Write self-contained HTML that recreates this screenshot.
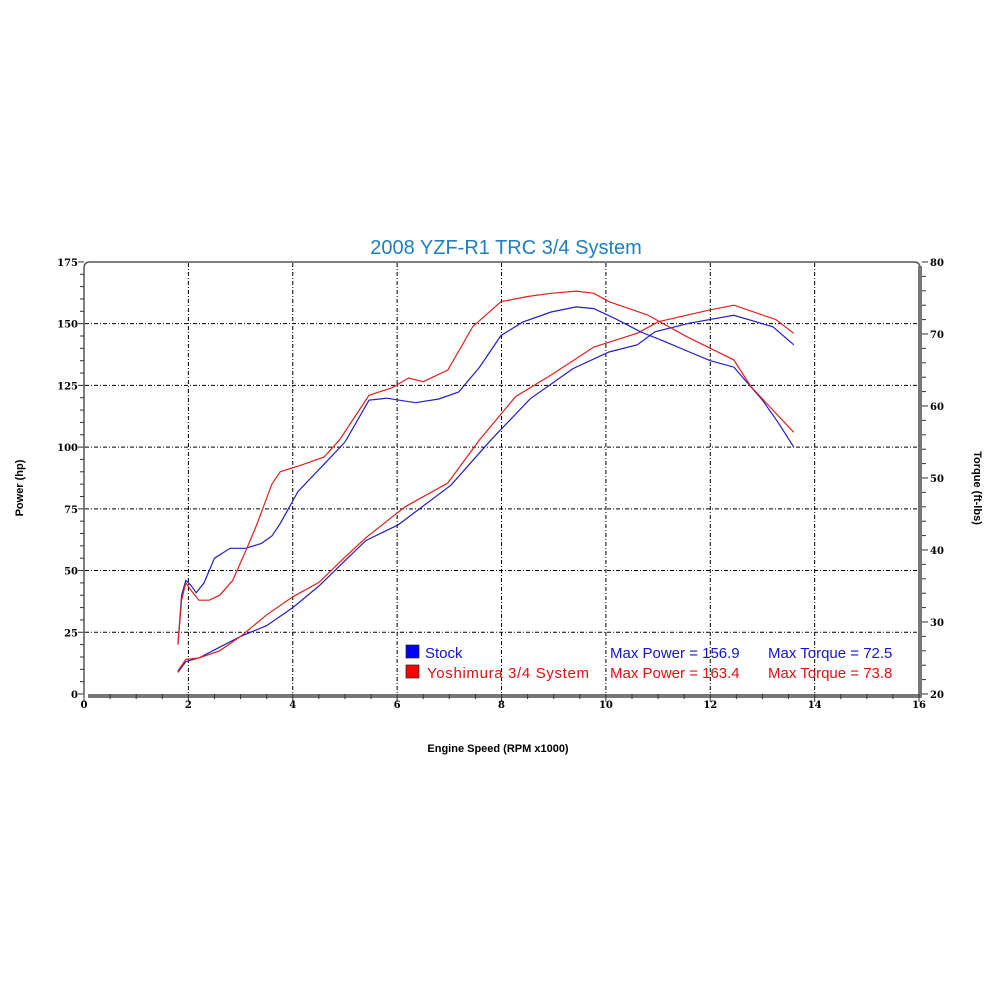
<!DOCTYPE html>
<html><head><meta charset="utf-8"><style>
html,body{margin:0;padding:0;background:#fff;width:1000px;height:1000px;overflow:hidden}
</style></head><body>
<svg id="s" width="1000" height="1000" xmlns="http://www.w3.org/2000/svg" font-family="Liberation Sans, sans-serif">
<rect width="1000" height="1000" fill="#fff"/>
<text x="506" y="254" text-anchor="middle" font-size="20" fill="#1f7fc0">2008 YZF-R1 TRC 3/4 System</text>
<g id="grid" stroke="#000" stroke-width="1" stroke-dasharray="4,2,1,2"></g>
<path d="M84,694 L84,268 Q84,262 90,262 L914,262 Q920,262 920,268 L920,694" fill="none" stroke="#555" stroke-width="1.5"/>
<rect x="918" y="266" width="4" height="432" fill="#777"/>
<rect x="88" y="694" width="834" height="4" fill="#777"/>
<g id="ticks" stroke="#333" stroke-width="1"></g>
<g id="lab" font-family="DejaVu Serif, serif" font-weight="bold" font-size="10" fill="#000"></g>
<text transform="translate(23,488) rotate(-90)" text-anchor="middle" font-size="11" font-weight="bold">Power (hp)</text>
<text transform="translate(974,488) rotate(90)" text-anchor="middle" font-size="11" font-weight="bold">Torque (ft-lbs)</text>
<text x="498" y="752" text-anchor="middle" font-size="11" font-weight="bold">Engine Speed (RPM x1000)</text>
<g id="curves" fill="none" stroke-width="1.2"></g>
<rect x="406" y="645" width="13" height="13" fill="#0000ff" stroke="#222" stroke-width="0.7"/>
<rect x="406" y="665" width="13" height="13" fill="#ff0000" stroke="#222" stroke-width="0.7"/>
<g font-size="15">
<text x="425" y="658" fill="#1515c8">Stock</text>
<text x="427" y="678" fill="#e01010" textLength="162">Yoshimura 3/4 System</text>
<text x="610" y="658" fill="#1515c8">Max Power = 156.9</text>
<text x="610" y="678" fill="#e01010">Max Power = 163.4</text>
<text x="768" y="658" fill="#1515c8">Max Torque = 72.5</text>
<text x="768" y="678" fill="#e01010">Max Torque = 73.8</text>
</g>
</svg>
<script>
var NS="http://www.w3.org/2000/svg";
function X(r){return 84+r*52.19;}
function Yp(h){return 694-h*2.469;}
function Yt(t){return 694-(t-20)*7.2;}
function el(p,tag,a,txt){var e=document.createElementNS(NS,tag);for(var k in a)e.setAttribute(k,a[k]);if(txt!==undefined)e.textContent=txt;document.getElementById(p).appendChild(e);}
for(var i=1;i<8;i++)el("grid","line",{x1:X(2*i),x2:X(2*i),y1:263,y2:694});
for(var j=1;j<7;j++)el("grid","line",{x1:85,x2:918,y1:Yp(25*j),y2:Yp(25*j)});
for(var j=0;j<=35;j++){var y=Yp(5*j);el("ticks","line",{x1:j%5==0?78:80,x2:84,y1:y,y2:y});}
for(var j=0;j<=30;j++){var y=Yt(20+2*j);el("ticks","line",{x1:922,x2:j%5==0?928:926,y1:y,y2:y});}
for(var i=0;i<=32;i++){var x=X(i/2);el("ticks","line",{x1:x,x2:x,y1:694,y2:i%4==0?702:699});}
for(var j=0;j<=7;j++)el("lab","text",{x:78,y:Yp(25*j)+4,"text-anchor":"end"},""+25*j);
for(var j=0;j<=6;j++)el("lab","text",{x:930,y:Yt(20+10*j)+4},""+(20+10*j));
for(var i=0;i<=8;i++)el("lab","text",{x:X(2*i),y:708,"text-anchor":"middle"},""+2*i);
function line(d,fy,c){var p=d.map(function(q){return X(q[0]).toFixed(1)+","+fy(q[1]).toFixed(1)}).join(" ");el("curves","polyline",{points:p,stroke:c});}
var bp=[[1.8,20],[1.87,40],[1.95,46],[2.05,44],[2.15,41],[2.3,45],[2.5,55],[2.8,59],[3.1,59],[3.4,61],[3.6,64],[3.76,69],[4.1,82],[4.64,94],[5.0,102],[5.46,119],[5.8,119.8],[6.35,118],[6.8,119.5],[7.18,122.3],[7.58,132.4],[7.99,145.2],[8.4,150.6],[8.95,154.7],[9.43,156.8],[9.77,156.1],[10.18,152],[10.67,146.6],[11.1,143],[11.6,138.5],[12.0,135],[12.45,132.4],[13.0,119],[13.3,110],[13.6,100]];
var rp=[[1.8,20],[1.87,38],[1.95,45],[2.05,42],[2.2,38],[2.4,38],[2.6,40],[2.85,46],[3.1,58],[3.3,68],[3.6,85],[3.76,90],[4.2,93],[4.6,96],[4.9,103],[5.46,121],[5.9,124],[6.22,128],[6.5,126.5],[6.97,131.2],[7.45,148.8],[7.99,158.9],[8.5,161],[8.95,162.3],[9.43,163.2],[9.77,162.3],[10.06,158.9],[10.8,153.5],[11.55,144.7],[12.0,140],[12.45,135.3],[12.78,124.5],[13.2,115],[13.6,106]];
var bt=[[1.8,23],[1.95,24.5],[2.2,25],[2.6,26.5],[3.0,28],[3.5,29.5],[4.0,32],[4.5,35],[5.0,38.5],[5.4,41.3],[6.02,43.5],[7.03,49],[7.8,55.3],[8.55,61],[9.37,65.2],[10.06,67.5],[10.6,68.5],[10.94,70.3],[11.6,71.5],[12.45,72.6],[13.2,71],[13.6,68.5]];
var rt=[[1.8,23.2],[1.95,24.8],[2.2,25],[2.6,26],[3.0,28],[3.5,31],[4.0,33.5],[4.5,35.5],[5.0,39],[5.4,41.7],[6.15,46],[6.97,49.3],[7.58,55.3],[8.27,61.3],[8.95,64.3],[9.77,68.2],[10.6,70.1],[11.0,71.7],[11.97,73.3],[12.45,74],[13.26,72],[13.6,70.1]];
line(bt,Yt,"#2020c0");line(rt,Yt,"#e02020");line(bp,Yp,"#2020c0");line(rp,Yp,"#e02020");
</script>
</body></html>
